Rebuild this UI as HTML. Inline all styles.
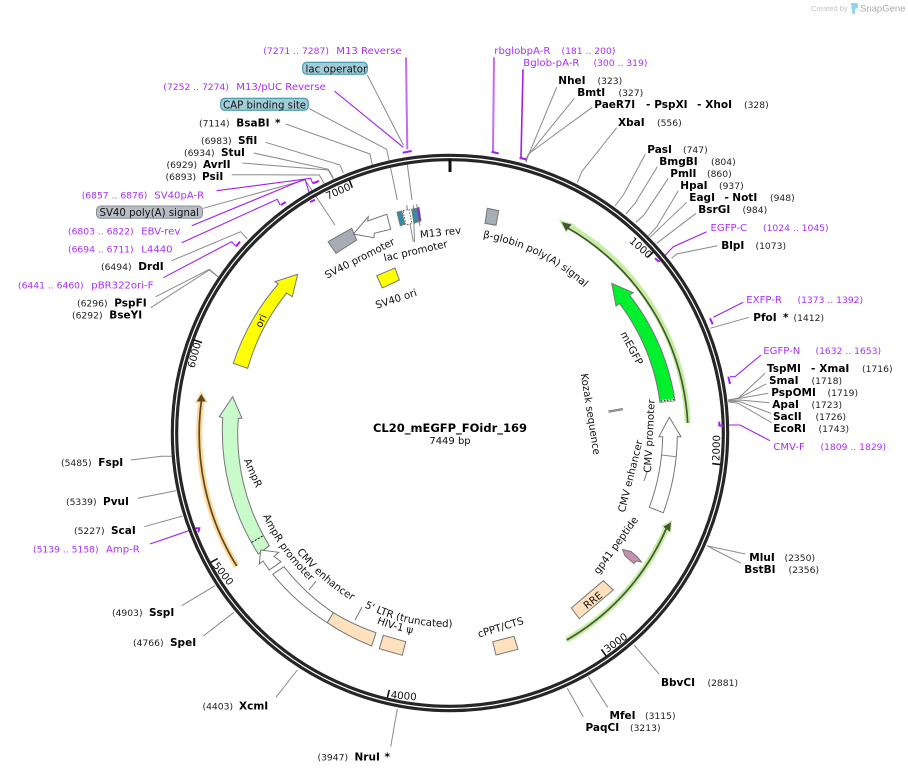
<!DOCTYPE html>
<html><head><meta charset="utf-8"><style>
html,body{margin:0;padding:0;background:#fff}
svg{display:block}
text{font-family:"DejaVu Sans","Liberation Sans",sans-serif;font-size:10.2px;fill:#111}
.b{font-weight:bold;font-size:10.5px;fill:#000}
.n{font-size:9.2px;fill:#222}
.p{font-size:10.1px;fill:#a92ff5}
.q{font-size:9.2px;fill:#a92ff5}
.l{fill:none;stroke:#8a8a8a;stroke-width:1}
.v{fill:none;stroke:#a11ef0;stroke-width:1.1}
.br{fill:none;stroke:#a11ef0;stroke-width:2}
.f{stroke:#777;stroke-width:1}
</style></head><body>
<svg width="908" height="773" viewBox="0 0 908 773" xmlns="http://www.w3.org/2000/svg">
<rect width="908" height="773" fill="#fff"/>

<text x="811" y="11" style="font-family:'Liberation Sans',sans-serif;font-size:7.5px;fill:#c4c4c4">Created by</text>
<path d="M851 3h5c3 0 3 4 1 5l-2 1v5h-2.500z" fill="#8fd3f0"/>
<text x="860" y="11.500" style="font-family:'Liberation Sans',sans-serif;font-size:9.5px;fill:#a9a9a9">SnapGene</text>

<!-- connectors -->
<g class="l">
<polyline points="367.3,75 403.3,145"/>
<polyline points="406.7,160 412,200"/>
<polyline points="413.3,205 414.5,242"/>
<polyline points="406.7,205 413.3,241.7"/>
<polyline points="416.7,204 420,226"/>
<polyline points="309.3,108.7 386.7,149.3 397.3,200"/>
<polyline points="285.7,124 370,154 372.3,165"/>
<polyline points="265.7,142.3 340,165 343.3,173"/>
<polyline points="253.7,153 328.3,169.3 333.3,178"/>
<polyline points="242.3,163 328.3,170 333.3,179"/>
<polyline points="231.7,174.7 319.3,175 325,185"/>
<polyline points="203.3,208.3 305,180 335,225"/>
<polyline points="171.7,260.7 240.7,231.7 247.3,239"/>
<polyline points="155.7,296.7 209.3,269.3 218.3,276.7"/>
<polyline points="150.7,307.7 209.3,270 218.3,277"/>
<polyline points="556.7,87.3 525.7,161.7"/>
<polyline points="574.3,98.3 527,156.7 526,162"/>
<polyline points="592.3,107.3 528.3,154 526,162.3"/>
<polyline points="616.7,127.7 581.7,171.7 577.3,182.7"/>
<polyline points="645.3,154.3 623.3,195 615,206"/>
<polyline points="657.3,166.7 635,203.3 626,214"/>
<polyline points="668.3,178.3 644,215 636,222.3"/>
<polyline points="678.3,190.7 656.7,226.7 648.3,236"/>
<polyline points="686.7,202.3 650,237.3"/>
<polyline points="696,213.3 656.7,243.3"/>
<polyline points="717.3,245.7 676.7,254 671.7,258.3"/>
<polyline points="749,317.3 710,328.3"/>
<polyline points="765,373.3 738.3,398.3 728.3,400"/>
<polyline points="766,384 738.3,398.3 728.3,400"/>
<polyline points="768.3,393.3 740,398.3 728.3,400"/>
<polyline points="769.3,402.7 740,400 728.3,400.7"/>
<polyline points="771,413.3 740,401.7 728.3,401"/>
<polyline points="771.7,422.7 738.3,403.3 728.3,401.7"/>
<polyline points="745.3,554 706.7,545.7"/>
<polyline points="741,563.3 715,550 706.7,545.7"/>
<polyline points="659.3,674.3 634,645"/>
<polyline points="607.7,707.3 588.3,676.7"/>
<polyline points="583.3,716.7 567.3,688.3"/>
<polyline points="390.7,746.7 397.3,709"/>
<polyline points="276,697.3 297.3,670"/>
<polyline points="203.3,636 234,612.3"/>
<polyline points="181.7,605.7 215,585.7"/>
<polyline points="144.3,526.7 182.7,516"/>
<polyline points="137.7,498.3 176,490.7"/>
<polyline points="131,460 161.7,456.3 171.7,456.3"/>
</g>
<g class="v">
<line x1="406" y1="57.3" x2="407.3" y2="149.3" stroke-width="2" opacity=".65"/>
<polyline points="334.3,91 403.3,147.3"/>
<polyline points="216.7,190.7 310.7,178.3 312.7,183.3"/>
<polyline points="191.7,225.7 305,179 311,199"/>
<polyline points="181.7,242.7 277.3,199.3 280,205"/>
<polyline points="163.3,277.7 231.7,241.7 235.7,246"/>
<polyline points="494,57.3 493,150.7" stroke-width="2" opacity=".65"/>
<polyline points="523,69.3 521,156.7" stroke-width="1.6"/>
<polyline points="706.7,231.7 673.3,246.7 659,261.7"/>
<polyline points="743.3,302.3 713.3,317.3"/>
<polyline points="761,355 735,376.7 730,376.7"/>
<polyline points="770,440.7 740,425 723.3,425"/>
<polyline points="150,544 195.7,528.3"/>
</g>

<!-- backbone -->
<circle cx="450" cy="433" r="275.5" fill="none" stroke="#262626" stroke-width="7.5"/>
<circle cx="450" cy="433" r="275.5" fill="none" stroke="#fff" stroke-width="1.2"/>

<!-- primer brackets -->
<g class="br">
<line x1="402.7" y1="152.7" x2="411.7" y2="151"/>
<polyline points="493,150.7 492.5,152 498.7,153.5"/>
<polyline points="521,156.7 520.5,158 526.7,159.5"/>
<line x1="312.7" y1="183.3" x2="319" y2="181"/>
<line x1="310" y1="202" x2="315" y2="199.8"/>
<line x1="281" y1="205" x2="285.7" y2="202"/>
<line x1="236" y1="246.5" x2="240" y2="241.7"/>
<line x1="655" y1="258.3" x2="659" y2="261.7"/>
<line x1="710" y1="318.3" x2="712.7" y2="324.3"/>
<line x1="728.3" y1="376.7" x2="730" y2="384"/>
<polyline points="719.3,421.7 719.3,425.5 723.3,425.5"/>
<polyline points="195.7,528.3 199.3,528.3 198.3,532.3"/>
</g>

<!-- ticks -->
<g stroke="#111" stroke-width="1.6">
<line x1="450" y1="159" x2="450" y2="172" stroke-width="3"/>
<line x1="647.2" y1="257.5" x2="653.2" y2="252.2"/>
<line x1="712.2" y1="463.6" x2="720.2" y2="464.6"/>
<line x1="601.4" y1="649.3" x2="606" y2="655.8"/>
<line x1="389.3" y1="689.9" x2="387.4" y2="697.7"/>
<line x1="217.7" y1="558.6" x2="210.6" y2="562.4"/>
<line x1="202" y1="342.7" x2="194.4" y2="340"/>
<line x1="352.3" y1="187.7" x2="349.4" y2="180.3"/>
</g>
<g text-anchor="middle">
<text transform="translate(641,247.5) rotate(41)" y="3.8">1000</text>
<text transform="translate(716,448) rotate(-88)" y="3.8">2000</text>
<text transform="translate(615.5,642.5) rotate(-35)" y="3.8">3000</text>
<text transform="translate(403.7,695.5) rotate(5)" y="3.8">4000</text>
<text transform="translate(223.5,573.5) rotate(52)" y="3.8">5000</text>
<text transform="translate(194,355) rotate(-75)" y="3.8">6000</text>
<text transform="translate(338,191) rotate(-24)" y="3.8">7000</text>
</g>

<!-- long arc features -->
<path d="M687.7 423A238.5 238.5 0 0 0 565 224" fill="none" stroke="#c2f0a0" stroke-width="6"/>
<polygon points="559,219.5 574,224 566,233" fill="#c2f0a0"/>
<path d="M687.7 423A238.5 238.5 0 0 0 566 227" fill="none" stroke="#4a5338" stroke-width="1.7"/>
<polygon points="561.5,222 571.5,224.5 566,231" fill="#4a5338"/>
<path d="M566.7 640A238 238 0 0 0 667 527" fill="none" stroke="#c2f0a0" stroke-width="6"/>
<polygon points="672,520 661.5,526 671,533" fill="#c2f0a0"/>
<path d="M566.7 640A238 238 0 0 0 667 527" fill="none" stroke="#4a5338" stroke-width="1.7"/>
<polygon points="671,522.3 663.3,526.7 670,531.7" fill="#4a5338"/>
<path d="M236.7 566A251.5 251.5 0 0 1 201.5 400" fill="none" stroke="#ffd896" stroke-width="6"/>
<polygon points="201.3,391 194.5,402.5 208,402.5" fill="#ffd896"/>
<path d="M236.7 566A251.5 251.5 0 0 1 201.5 400" fill="none" stroke="#5a4a2a" stroke-width="1.7"/>
<polygon points="201.3,394 196.8,401.5 205.8,401.5" fill="#5a4a2a"/>

<!-- directional features -->
<path class="f" fill="#00f02e" d="M675 400.7A227.5 227.5 0 0 0 629.5 295L633.3 292.7L611.7 283.3L616 306L619.5 303.5A212.5 212.5 0 0 1 660 402.3Z"/>
<line x1="661" y1="401" x2="674.5" y2="399.5" stroke="#fff" stroke-width="2"/>
<line x1="661" y1="401" x2="674.5" y2="399.5" stroke="#222" stroke-width="1.2" stroke-dasharray="1.5 1.5"/>
<path class="f" fill="#fff" d="M669.3 417.3L681 436.7L677.3 436.7A227.5 227.5 0 0 1 663.3 512.7L649.3 507.3A212.5 212.5 0 0 0 662.7 436.7L659 436.7Z"/>
<line class="l" x1="661.7" y1="455" x2="676" y2="456.7"/>
<path class="f" fill="#c9fbca" d="M232.7 396.7L242 418.3L238.3 418.3A212.5 212.5 0 0 0 269.3 545.7L258.3 554A227.5 227.5 0 0 1 222.7 417.7L219.3 416.7Z"/>
<line x1="251.7" y1="542.3" x2="262.7" y2="536" stroke="#111" stroke-width="1" stroke-dasharray="2 1.5"/>
<polygon class="f" fill="#fff" points="260.7,550 278.7,552.3 274,556.5 281,561.7 269.3,570 263,561 259.3,564"/>
<path class="f" fill="#fff" d="M284 566.7A213 213 0 0 0 333.3 612.7L327.3 622.7A227 227 0 0 1 272.7 574.3Z"/>
<path class="f" fill="#ffe1bd" d="M333.3 612.7A213 213 0 0 0 376 632.7L371.7 646A227 227 0 0 1 327.3 622.7Z"/>
<polygon class="f" fill="#ffe1bd" points="383.3,635.3 405.7,641.7 402.3,655.3 379.3,648.7"/>
<polygon class="f" fill="#ffe1bd" points="492.7,641.7 514,636.3 518,649.3 496,655"/>
<polygon class="f" fill="#ffe1bd" points="571.3,608 603.3,580.7 613.3,590 579.3,618.7"/>
<polygon class="f" fill="#c68fae" points="622.5,549.5 631,551.5 637,556.5 641.5,562 636,561 634,563.5 625,556"/>
<path class="f" fill="#ffff00" d="M297.7 274.3L292.3 296.7L286.7 293A212.5 212.5 0 0 0 247.7 368.3L233.3 363.3A227.5 227.5 0 0 1 278.3 284L275 281.7Z"/>
<polygon class="f" fill="#a7adb6" points="328,241.7 351.7,228.3 356.7,240 336,253.3"/>
<polygon class="f" fill="#fff" points="353.3,234 368.3,216.7 367.7,221 386.7,214.3 390.7,229.3 374.3,233.3 374,237.7"/>
<polygon class="f" fill="#ffff00" points="376.7,275.7 395,268 399.3,280 382.3,288"/>
<polygon class="f" fill="#a7adb6" points="487.3,208.3 498.7,210.7 496,225.3 485,223.3"/>
<polygon class="f" fill="#2f8da6" points="397,212.3 401.7,211 404.7,224.3 400.3,225.7"/>
<polygon fill="#fff" stroke="#333" stroke-width=".8" stroke-dasharray="1.5 1.5" points="403,210.5 409,209.5 412,223.5 406,225"/>
<polygon class="f" fill="#2f8da6" points="411.7,209.3 416.7,208.3 418.3,221.7 414,223.3"/>
<polygon class="f" fill="#8a20d8" points="416.7,208.3 419,207.3 421,220.7 418.7,222"/>
<g stroke="#777" stroke-width="1"><line x1="608.3" y1="411" x2="622.7" y2="408.5"/><line x1="608.5" y1="412.3" x2="622.9" y2="409.8"/>
<line x1="644" y1="481" x2="647" y2="472"/><line x1="355" y1="620" x2="362" y2="607"/><line x1="309" y1="590" x2="316" y2="581"/></g>

<!-- inner labels -->
<defs>
<path id="a1" d="M482.7 237.7A198 198 0 0 1 601.7 305.7"/>
<path id="a2" d="M364.3 607.3A194 194 0 0 0 460 626.7"/>
<path id="a3" d="M376.7 623.4A204 204 0 0 0 425 635.5"/>
<path id="a4" d="M296.7 551.7A194 194 0 0 0 358 604"/>
<path id="a5" d="M263 516A204 204 0 0 0 320 590"/>
</defs>
<text><textPath href="#a1">β-globin poly(A) signal</textPath></text>
<text><textPath href="#a2">5' LTR (truncated)</textPath></text>
<text><textPath href="#a3">HIV-1 ψ</textPath></text>
<text><textPath href="#a4">CMV enhancer</textPath></text>
<text><textPath href="#a5">AmpR promoter</textPath></text>
<g text-anchor="middle">
<text transform="translate(253.3,472.7) rotate(66)" y="3.8">AmpR</text>
<text transform="translate(632,348) rotate(62)" y="3.8">mEGFP</text>
<text transform="translate(591,414) rotate(81)" y="3.8">Kozak sequence</text>
<text transform="translate(649,436) rotate(-87)" y="3.8">CMV promoter</text>
<text transform="translate(630,476) rotate(-76)" y="3.8">CMV enhancer</text>
<text transform="translate(615.5,545) rotate(-54)" y="3.8">gp41 peptide</text>
<text transform="translate(500.5,627) rotate(-17)" y="3.8">cPPT/CTS</text>
<text transform="translate(592.7,600) rotate(-38)" y="3.8">RRE</text>
<text transform="translate(260.7,320.7) rotate(-65)" y="3.8">ori</text>
<text transform="translate(359.5,258) rotate(-27)" y="3.8">SV40 promoter</text>
<text transform="translate(415.5,250.5) rotate(-13)" y="3.8">lac promoter</text>
<text transform="translate(440.5,232) rotate(-6)" y="3.8">M13 rev</text>
<text transform="translate(396,298.5) rotate(-18)" y="3.8">SV40 ori</text>
<text x="450" y="432" style="font-weight:bold;font-size:11.5px;fill:#000">CL20_mEGFP_FOidr_169</text>
<text x="450" y="444" style="font-size:10px;fill:#111">7449 bp</text>
</g>

<!-- boxes -->
<rect x="302.7" y="62.3" width="64.6" height="12" rx="4" fill="#a2ccd6" stroke="#2f8da6"/>
<text x="305.5" y="72.3">lac operator</text>
<rect x="220.7" y="98.3" width="87.6" height="12" rx="4" fill="#a2ccd6" stroke="#2f8da6"/>
<text x="223" y="108.3">CAP binding site</text>
<rect x="96.5" y="206" width="106" height="12.3" rx="4" fill="#b8bcc4" stroke="#8a8f98"/>
<text x="99.5" y="216">SV40 poly(A) signal</text>

<!-- left/top-left labels -->
<text class="q" x="263.3" y="54">(7271 .. 7287)</text><text class="p" x="336.3" y="54">M13 Reverse</text>
<text class="q" x="163.3" y="90">(7252 .. 7274)</text><text class="p" x="236.3" y="90">M13/pUC Reverse</text>
<text class="n" x="199" y="126.5">(7114)</text><text class="b" x="236.3" y="126.5">BsaBI</text><text class="b" x="275" y="126.5">*</text>
<text class="n" x="201" y="144">(6983)</text><text class="b" x="238" y="144">SfiI</text>
<text class="n" x="184" y="156">(6934)</text><text class="b" x="221" y="156">StuI</text>
<text class="n" x="166.5" y="168">(6929)</text><text class="b" x="203" y="168">AvrII</text>
<text class="n" x="165.5" y="180">(6893)</text><text class="b" x="202" y="180">PsiI</text>
<text class="q" x="81.7" y="198.5">(6857 .. 6876)</text><text class="p" x="154.3" y="198.5">SV40pA-R</text>
<text class="q" x="68" y="234.5">(6803 .. 6822)</text><text class="p" x="141.3" y="234.5">EBV-rev</text>
<text class="q" x="68" y="252.5">(6694 .. 6711)</text><text class="p" x="141.3" y="252.5">L4440</text>
<text class="n" x="101" y="270">(6494)</text><text class="b" x="138.3" y="270">DrdI</text>
<text class="q" x="18" y="288.5">(6441 .. 6460)</text><text class="p" x="91.3" y="288.5">pBR322ori-F</text>
<text class="n" x="77" y="306.5">(6296)</text><text class="b" x="114.3" y="306.5">PspFI</text>
<text class="n" x="72" y="318.5">(6292)</text><text class="b" x="109.3" y="318.5">BseYI</text>
<text class="n" x="61" y="466">(5485)</text><text class="b" x="98.3" y="466">FspI</text>
<text class="n" x="66" y="505">(5339)</text><text class="b" x="103" y="505">PvuI</text>
<text class="n" x="74" y="534">(5227)</text><text class="b" x="111" y="534">ScaI</text>
<text class="q" x="33" y="552.5">(5139 .. 5158)</text><text class="p" x="106" y="552.5">Amp-R</text>
<text class="n" x="112" y="616">(4903)</text><text class="b" x="149" y="616">SspI</text>
<text class="n" x="133" y="646">(4766)</text><text class="b" x="170" y="646">SpeI</text>
<text class="n" x="202.5" y="709.5">(4403)</text><text class="b" x="239" y="709.5">XcmI</text>
<text class="n" x="317.5" y="760.5">(3947)</text><text class="b" x="354.5" y="760.5">NruI</text><text class="b" x="384.5" y="760.5">*</text>

<!-- right labels -->
<text class="p" x="494.3" y="54">rbglobpA-R</text><text class="q" x="561.5" y="54">(181 .. 200)</text>
<text class="p" x="523.3" y="66">Bglob-pA-R</text><text class="q" x="593.5" y="66">(300 .. 319)</text>
<text class="b" x="558.3" y="84">NheI</text><text class="n" x="597.5" y="84">(323)</text>
<text class="b" x="577.3" y="96">BmtI</text><text class="n" x="618.5" y="96">(327)</text>
<text class="b" x="594.3" y="108">PaeR7I</text><text class="b" x="646" y="108">-</text><text class="b" x="654.3" y="108">PspXI</text><text class="b" x="697" y="108">-</text><text class="b" x="705.3" y="108">XhoI</text><text class="n" x="744" y="108">(328)</text>
<text class="b" x="618" y="126">XbaI</text><text class="n" x="657" y="126">(556)</text>
<text class="b" x="647.3" y="153">PasI</text><text class="n" x="683" y="153">(747)</text>
<text class="b" x="659.3" y="165">BmgBI</text><text class="n" x="711" y="165">(804)</text>
<text class="b" x="670.3" y="177">PmlI</text><text class="n" x="707" y="177">(860)</text>
<text class="b" x="680.3" y="189">HpaI</text><text class="n" x="719" y="189">(937)</text>
<text class="b" x="689.3" y="201">EagI</text><text class="b" x="724.5" y="201">-</text><text class="b" x="732.3" y="201">NotI</text><text class="n" x="770" y="201">(948)</text>
<text class="b" x="698.3" y="213">BsrGI</text><text class="n" x="742.5" y="213">(984)</text>
<text class="p" x="710.5" y="231">EGFP-C</text><text class="q" x="763" y="231">(1024 .. 1045)</text>
<text class="b" x="721.3" y="249">BlpI</text><text class="n" x="755.5" y="249">(1073)</text>
<text class="p" x="746.3" y="303">EXFP-R</text><text class="q" x="797.5" y="303">(1373 .. 1392)</text>
<text class="b" x="753.3" y="321">PfoI</text><text class="b" x="783" y="321">*</text><text class="n" x="793.5" y="321">(1412)</text>
<text class="p" x="763.3" y="354">EGFP-N</text><text class="q" x="815.5" y="354">(1632 .. 1653)</text>
<text class="b" x="767" y="372">TspMI</text><text class="b" x="811" y="372">-</text><text class="b" x="819.3" y="372">XmaI</text><text class="n" x="862" y="372">(1716)</text>
<text class="b" x="769" y="384">SmaI</text><text class="n" x="811.5" y="384">(1718)</text>
<text class="b" x="771.3" y="396">PspOMI</text><text class="n" x="827.5" y="396">(1719)</text>
<text class="b" x="772.3" y="408">ApaI</text><text class="n" x="811.5" y="408">(1723)</text>
<text class="b" x="773" y="420">SacII</text><text class="n" x="815.5" y="420">(1726)</text>
<text class="b" x="773.3" y="432">EcoRI</text><text class="n" x="818.5" y="432">(1743)</text>
<text class="p" x="773.3" y="450">CMV-F</text><text class="q" x="820.5" y="450">(1809 .. 1829)</text>
<text class="b" x="749.3" y="561">MluI</text><text class="n" x="784.5" y="561">(2350)</text>
<text class="b" x="744.3" y="573">BstBI</text><text class="n" x="788.5" y="573">(2356)</text>
<text class="b" x="661" y="686">BbvCI</text><text class="n" x="707.5" y="686">(2881)</text>
<text class="b" x="609.5" y="719">MfeI</text><text class="n" x="645" y="719">(3115)</text>
<text class="b" x="585.5" y="731">PaqCI</text><text class="n" x="630" y="731">(3213)</text>
</svg>
</body></html>
